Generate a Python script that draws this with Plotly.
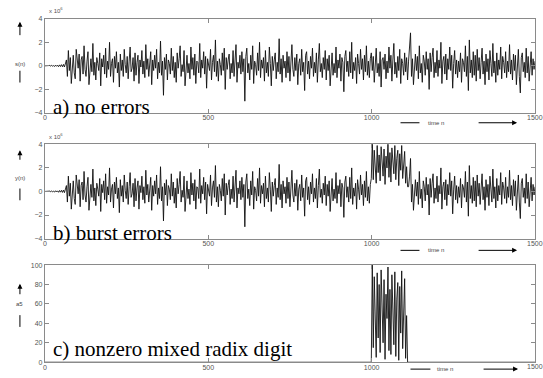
import plotly.graph_objects as go

W, H = 543, 378

# time index of the sampled trace (every 3rd sample of n = 0..1500)
step = 3
n = list(range(0, 1501, step))

# s(n) in units of 1e6
s_vals = [
    0, 0.01, -0.02, 0.02, -0.01, 0.03, -0.02, 0.04, -0.03, 0.02, -0.05, 0.06, -0.04, 0.05, -0.07, 0.08, -0.06, 0.1, -0.08, 0.12, -0.1, 0.15, 0.5, -0.9, 1.3,
    -0.4, 0.7, -1.5, 0.2, 0.9, -0.6, -1.1, 1.4, 0.3, -0.2, 1.0, -1.3, 0.5, 0.8, -0.7, 1.7, -0.3, -0.9, 0.4, 1.2, -1.6, 0.1, 0.6, -0.5, 1.9,
    -0.8, 0.3, -1.2, 0.7, 0.2, -0.4, 1.1, -1.7, 0.6, -0.1, 0.9, -0.7, 1.5, -1.0, 0.4, -0.3, 2.0, -0.9, 0.2, 0.6, -1.4, 0.8, -0.2, 1.2, -0.6,
    0.3, -1.8, 1.0, -0.4, 0.5, -0.9, 1.4, 0.1, -0.6, 0.8, -1.1, 0.4, 1.6, -0.5, -0.2, 0.7, -1.3, 1.1, -0.8, 0.3, 0.9, -1.5, 0.5, -0.1, 1.3,
    -0.7, 0.4, -1.0, 1.8, -0.3, 0.6, -0.9, 0.2, 1.2, -1.6, 0.5, -0.4, 0.9, -0.2, 1.4, -1.1, 0.3, -0.6, 2.1, -0.8, 0.4, -2.5, 0.7, -0.3, 1.0,
    -1.2, 0.5, 0.2, -0.7, 1.5, -0.4, 0.8, -1.0, 0.3, -1.4, 1.1, -0.2, 0.6, 1.7, -0.9, 0.1, -0.5, 1.3, -1.7, 0.4, 0.9, -0.6, 0.2, -1.1, 1.6,
    -0.3, 0.7, -0.8, 1.0, -1.5, 0.4, 0.3, -0.6, 1.9, -1.0, 0.5, -0.2, 1.2, -0.7, 0.8, -1.9, 0.6, 0.2, -0.4, 1.4, -1.2, 0.3, 0.9, -0.5, 2.2,
    -0.9, 0.4, -1.3, 0.6, 0.1, -0.8, 1.1, -0.4, 1.5, -2.0, 0.7, -0.3, 0.5, 1.0, -1.1, 0.2, -0.6, 1.3, -0.9, 0.4, 1.8, -1.4, 0.3, -0.2, 0.9,
    -0.7, 1.2, -0.5, 0.6, -3.0, 0.8, 1.5, -0.6, 0.2, -1.2, 0.9, -0.3, 1.7, -1.5, 0.4, 0.1, -0.8, 1.1, -0.4, 2.0, -1.0, 0.5, -0.2, 0.7, -1.3,
    1.3, -0.6, 0.3, -0.9, 1.6, 0.2, -1.7, 0.8, -0.4, 0.5, 1.1, -1.1, 0.3, -0.5, 2.3, -0.7, 0.6, -1.4, 0.9, -0.2, 0.4, -1.0, 1.2, -0.6, 0.8,
    -1.3, 0.5, 1.8, -0.3, -0.9, 0.7, -0.4, 1.0, -1.6, 0.2, 0.6, -0.8, 1.4, -0.5, 0.3, -2.1, 0.9, 1.2, -0.7, 0.4, -1.1, 0.8, -0.2, 1.5, -0.9,
    0.3, -0.6, 1.1, -1.4, 0.5, 1.9, -0.5, 0.2, -1.0, 0.7, -0.3, 1.3, -1.2, 0.6, -0.4, 0.9, -1.7, 0.4, 1.1, -0.8, 0.2, -0.6, 1.6, -1.0, 0.5,
    -0.2, 1.0, -1.3, 0.7, 0.3, -2.2, 0.8, 1.3, -0.5, 0.4, -0.9, 1.2, -0.6, 2.0, -1.1, 0.3, -0.4, 0.7, -1.5, 1.0, 0.2, -0.7, 1.4, -0.3, 0.6,
    -1.2, 0.9, -0.5, 1.7, -0.8, 0.4, -1.0, 0.6, 1.1, -0.4, 0.8, -1.4, 0.3, 1.5, -0.6, 0.2, -0.9, 1.2, -1.8, 0.5, 0.7, -0.3, 1.0, -1.1, 0.4,
    -0.6, 1.6, -0.2, 0.9, -1.3, 0.5, 1.9, -0.7, 0.3, -1.0, 0.8, -0.4, 1.4, -1.5, 0.6, 0.2, -0.8, 1.1, -0.5, 0.7, -1.2, 0.4, 1.3, 2.8, -0.9,
    0.6, -1.6, 0.3, 1.0, -0.4, 0.8, -1.1, 1.7, -0.6, 0.2, -1.4, 0.9, 0.4, -0.8, 1.2, -0.3, 0.6, -2.0, 1.1, -0.5, 0.7, 1.5, -1.0, 0.3, -0.6,
    1.3, -0.9, 0.5, -0.2, 2.0, -1.5, 0.4, 0.8, -0.7, 1.0, -1.2, 0.6, -0.3, 1.6, -0.4, 0.9, -1.9, 0.2, 1.3, -0.7, 0.5, -1.0, 0.4, -0.5, 1.1,
    -1.4, 0.6, 0.3, -0.5, 1.7, -0.9, 0.8, -2.1, 2.2, -0.6, 0.5, -1.0, 1.2, -0.8, 0.9, -1.3, 1.4, -0.4, 0.7, -1.1, 0.3, 1.5, -0.7, 0.4, -1.6,
    1.0, -0.5, 0.6, -1.2, 1.3, 0.2, -0.9, 1.9, -0.6, 0.4, -1.4, 1.1, -0.8, 0.5, -0.3, 1.6, -1.1, 0.8, 0.3, -0.6, 1.2, -1.0, 0.4, -0.5, 1.8,
    -0.7, 0.5, -1.2, 1.0, -0.4, 0.9, -1.6, 0.6, 1.4, -0.9, -2.3, 0.7, 1.1, -0.5, 0.3, -1.0, 1.5, -0.6, 0.8, -1.3, 0.4, 1.2, -0.8, 0.6, -0.3,
    0.4,
]

# burst error region (samples n = 1002 .. 1110)
burst_start = 334
burst_y = [4.3, 1.0, 3.5, 2.2, 0.7, 3.9, 1.6, 3.1, 0.9, 3.8, 2.5, 1.3, 3.6, 0.6, 3.0,
           2.0, 4.2, 1.2, 3.3, 0.8, 3.7, 2.4, 1.5, 3.9, 1.0, 2.8, 3.5, 0.5, 3.2, 1.8,
           3.9, 1.1, 2.6, 3.4, 0.7, 2.1, 0.4]
burst_a5 = [100, 15, 88, 40, 5, 92, 25, 80, 10, 95, 55, 20, 85, 3, 70, 45, 98, 12,
            75, 8, 90, 50, 18, 93, 6, 65, 82, 2, 78, 30, 94, 14, 60, 86, 4, 48, 0]

y_vals = s_vals[:burst_start] + burst_y + s_vals[burst_start + len(burst_y):]
a5_vals = [0] * burst_start + burst_a5 + [0] * (len(n) - burst_start - len(burst_a5))

x_ticks = [0, 500, 1000, 1500]
x_ticktext = ["0", "500", "1000", ""]
x_last_label = "1500"
y_ticks_sig = [-4, -2, 0, 2, 4]
y_ticks_a5 = [0, 20, 40, 60, 80, 100]
panel_titles = ["a) no errors", "b) burst errors", "c) nonzero mixed radix digit"]
y_labels = ["s(n)", "y(n)", "a5"]


def px(x):
    return x / W


def py(y):
    return 1 - y / H


fig = go.Figure()
line = dict(color="#111", width=0.9)
fig.add_trace(go.Scatter(x=n, y=s_vals, mode="lines", line=line, xaxis="x", yaxis="y"))
fig.add_trace(go.Scatter(x=n, y=y_vals, mode="lines", line=line, xaxis="x2", yaxis="y2"))
fig.add_trace(go.Scatter(x=n, y=a5_vals, mode="lines", line=line, xaxis="x3", yaxis="y3"))

xdom = [px(43), px(535)]
panels = [(15, 111), (143, 239), (266, 365)]

axstyle = dict(showline=True, linecolor="#8a8a8a", linewidth=1, mirror="ticks",
               ticks="inside", ticklen=4, tickcolor="#8a8a8a", showgrid=False, zeroline=False,
               tickfont=dict(family="Liberation Sans", size=7, color="#555"))

layout = dict(width=W, height=H, margin=dict(l=0, r=0, t=0, b=0),
              paper_bgcolor="white", plot_bgcolor="white", showlegend=False,
              hovermode=False)

for i, (top, bot) in enumerate(panels):
    k = "" if i == 0 else str(i + 1)
    layout["xaxis" + k] = dict(domain=xdom, range=[0, 1500], tickvals=x_ticks,
                               ticktext=x_ticktext, anchor="y" + k, ticklabelstandoff=-2,
                               **axstyle)
    if i < 2:
        ydict = dict(range=[-4, 4], tickvals=y_ticks_sig)
    else:
        ydict = dict(range=[0, 100], tickvals=y_ticks_a5)
    layout["yaxis" + k] = dict(domain=[py(bot), py(top)], anchor="x" + k,
                               **ydict, **axstyle)

fig.update_layout(**layout)

ann = []
shapes = []
title_y = [105, 233, 352]
for i, t in enumerate(panel_titles):
    ann.append(dict(text=t, x=px(49), y=py(title_y[i]), xref="paper", yref="paper",
                    xanchor="left", yanchor="middle", showarrow=False,
                    font=dict(family="Times New Roman, Liberation Serif, serif", size=21, color="black")))

# last x tick label, drawn raised at the right end
for yy in [116, 244, 369]:
    ann.append(dict(text=x_last_label, x=px(535), y=py(yy), xref="paper", yref="paper",
                    xanchor="center", yanchor="middle", showarrow=False,
                    font=dict(family="Liberation Sans", size=7, color="#555")))

# x 10^6 exponent labels
for yy in [6, 134]:
    ann.append(dict(text="x 10<sup>6</sup>", x=px(45), y=py(yy), xref="paper", yref="paper",
                    xanchor="left", yanchor="middle", showarrow=False,
                    font=dict(family="Liberation Sans", size=6, color="#555")))

# y-axis labels with arrows
ylab = [(18, 33, 61, 68, 80), (149, 160, 177, 188, 200), (285, 297, 306, 317, 329)]
for i, (head, tail, ty, l0, l1) in enumerate(ylab):
    ann.append(dict(text="", x=px(18), y=py(head), xref="paper", yref="paper",
                    ax=0, ay=tail - head, showarrow=True, arrowhead=2, arrowsize=1,
                    arrowwidth=1, arrowcolor="black"))
    ann.append(dict(text=y_labels[i], x=px(18), y=py(ty), xref="paper", yref="paper",
                    xanchor="center", yanchor="middle", showarrow=False,
                    font=dict(family="Liberation Sans", size=6, color="#444")))
    shapes.append(dict(type="line", xref="paper", yref="paper", x0=px(18), x1=px(18),
                       y0=py(l0), y1=py(l1), line=dict(color="black", width=1)))

# time n labels with arrows
tlab = [(121, 400, 419, 436, 477, 517), (251, 400, 419, 436, 477, 517), (372, 410, 430, 445, 482, 518)]
for (yy, l0, l1, tx, a0, a1) in tlab:
    shapes.append(dict(type="line", xref="paper", yref="paper", x0=px(l0), x1=px(l1),
                       y0=py(yy), y1=py(yy), line=dict(color="black", width=1)))
    ann.append(dict(text="time n", x=px(tx), y=py(yy), xref="paper", yref="paper",
                    xanchor="center", yanchor="middle", showarrow=False,
                    font=dict(family="Liberation Sans", size=6, color="#444")))
    ann.append(dict(text="", x=px(a1), y=py(yy), xref="paper", yref="paper",
                    ax=a0 - a1, ay=0, showarrow=True, arrowhead=2, arrowsize=1,
                    arrowwidth=1, arrowcolor="black"))

fig.update_layout(annotations=ann, shapes=shapes)
fig.write_html("out.html", config={"displayModeBar": False},
               post_script="document.body.style.margin='0px';")
